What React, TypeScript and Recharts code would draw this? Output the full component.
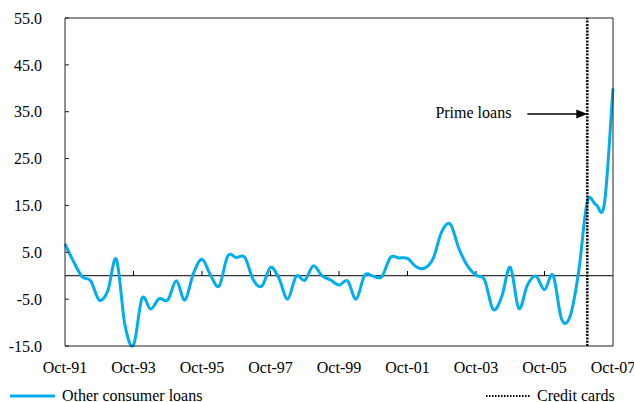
import { LineChart, Line, XAxis, YAxis, ReferenceLine } from "recharts";

const quarters = [
  "Oct-91", "Jan-92", "Apr-92", "Jul-92", "Oct-92", "Jan-93", "Apr-93", "Jul-93",
  "Oct-93", "Jan-94", "Apr-94", "Jul-94", "Oct-94", "Jan-95", "Apr-95", "Jul-95",
  "Oct-95", "Jan-96", "Apr-96", "Jul-96", "Oct-96", "Jan-97", "Apr-97", "Jul-97",
  "Oct-97", "Jan-98", "Apr-98", "Jul-98", "Oct-98", "Jan-99", "Apr-99", "Jul-99",
  "Oct-99", "Jan-00", "Apr-00", "Jul-00", "Oct-00", "Jan-01", "Apr-01", "Jul-01",
  "Oct-01", "Jan-02", "Apr-02", "Jul-02", "Oct-02", "Jan-03", "Apr-03", "Jul-03",
  "Oct-03", "Jan-04", "Apr-04", "Jul-04", "Oct-04", "Jan-05", "Apr-05", "Jul-05",
  "Oct-05", "Jan-06", "Apr-06", "Jul-06", "Oct-06", "Jan-07", "Apr-07", "Jul-07",
  "Oct-07",
];

const otherConsumerLoans = [
  6.8, 3.0, -0.2, -1.1, -5.2, -3.2, 3.5, -10.5,
  -14.8, -4.8, -7.1, -4.9, -5.2, -1.1, -5.2, 0.5,
  3.5, 0.1, -2.2, 4.2, 3.9, 3.9, -0.9, -2.2,
  1.8, -0.6, -5.0, -0.1, -1.0, 2.1, 0.0, -0.9,
  -2.0, -1.1, -5.0, 0.1, -0.1, -0.2, 3.9, 3.8,
  3.7, 1.9, 1.6, 3.7, 9.4, 11.0, 5.8, 2.1,
  0.1, -0.9, -7.2, -4.5, 1.8, -7.0, -2.0, -0.1,
  -3.0, 0.1, -9.3, -8.6, 1.0, 15.8, 15.2, 15.4,
  40.0,
];

const xTicks = ["Oct-91", "Oct-93", "Oct-95", "Oct-97", "Oct-99", "Oct-01", "Oct-03", "Oct-05", "Oct-07"];
const yTicks = [-15, -5, 5, 15, 25, 35, 45, 55];
const creditCardsMark = "Jan-07";
const primeArrowFrom = "Apr-05";
const primeArrowLevel = 34.5;

const data = quarters.map((q, i) => ({ q, other: otherConsumerLoans[i] }));

const FONT = '"Liberation Serif", "Times New Roman", serif';
const BLUE = "#00AEEF";
const AXIS = "#222";

// smooth curve through every point, like a spreadsheet's smoothed line
const smoothCurve = (context: any) => {
  let pts: [number, number][] = [];
  return {
    areaStart() {},
    areaEnd() {},
    lineStart() {
      pts = [];
    },
    point(x: number, y: number) {
      pts.push([+x, +y]);
    },
    lineEnd() {
      if (!pts.length) return;
      context.moveTo(pts[0][0], pts[0][1]);
      for (let i = 0; i < pts.length - 1; i++) {
        const p0 = pts[Math.max(i - 1, 0)];
        const p1 = pts[i];
        const p2 = pts[i + 1];
        const p3 = pts[Math.min(i + 2, pts.length - 1)];
        context.bezierCurveTo(
          p1[0] + (p2[0] - p0[0]) / 6,
          p1[1] + (p2[1] - p0[1]) / 6,
          p2[0] - (p3[0] - p1[0]) / 6,
          p2[1] - (p3[1] - p1[1]) / 6,
          p2[0],
          p2[1]
        );
      }
    },
  };
};

const PrimeArrow = (props: any) => {
  const { x1, y1, x2, y2 } = props;
  return (
    <g>
      <line x1={x1} y1={y1} x2={x2 - 10} y2={y2} stroke="#000" strokeWidth={1.5} />
      <polygon points={`${x2},${y2} ${x2 - 11},${y2 - 4.5} ${x2 - 11},${y2 + 4.5}`} fill="#000" />
      <text x={x1 - 16} y={y1 + 3.5} textAnchor="end" fontSize={16} fontFamily={FONT} fill="#000">
        Prime loans
      </text>
    </g>
  );
};

export default function App() {
  return (
    <div style={{ position: "absolute", left: 0, top: 0, width: 634, height: 402, fontFamily: FONT }}>
      <LineChart width={634} height={402} data={data} margin={{ top: 18, right: 0, left: 0, bottom: 0 }}>
        <XAxis
          dataKey="q"
          ticks={xTicks}
          interval={0}
          tickLine={false}
          tickSize={0}
          tickMargin={16}
          height={56}
          axisLine={{ stroke: AXIS }}
          tick={{ fill: "#000", fontSize: 16, fontFamily: FONT }}
        />
        <YAxis
          domain={[-15, 55]}
          ticks={yTicks}
          width={65}
          tickSize={-4}
          tickMargin={27}
          tickFormatter={(v: number) => v.toFixed(1)}
          axisLine={{ stroke: AXIS }}
          tickLine={{ stroke: AXIS }}
          tick={{ fill: "#000", fontSize: 16, fontFamily: FONT }}
        />
        <YAxis
          yAxisId="r"
          orientation="right"
          domain={[-15, 55]}
          ticks={yTicks}
          width={21}
          tickSize={-4}
          tickFormatter={() => ""}
          axisLine={{ stroke: AXIS }}
          tickLine={{ stroke: AXIS }}
        />
        <ReferenceLine y={55} stroke={AXIS} />
        <ReferenceLine y={0} stroke="#000" />
        {xTicks.slice(1, -1).map((t) => (
          <ReferenceLine key={t} segment={[{ x: t, y: 0 }, { x: t, y: 1 }]} stroke="#000" />
        ))}
        <Line
          type={smoothCurve as any}
          dataKey="other"
          stroke={BLUE}
          strokeWidth={3}
          dot={false}
          isAnimationActive={false}
        />
        <ReferenceLine x={creditCardsMark} stroke="#000" strokeWidth={2.5} strokeDasharray="2 1.3" />
        <ReferenceLine
          segment={[{ x: primeArrowFrom, y: primeArrowLevel }, { x: creditCardsMark, y: primeArrowLevel }]}
          shape={PrimeArrow}
        />
      </LineChart>
      <svg width={634} height={18} style={{ position: "absolute", left: 0, top: 384 }}>
        <line x1={10} y1={12} x2={55} y2={12} stroke={BLUE} strokeWidth={3} />
        <text x={62} y={16.5} fontSize={16} fontFamily={FONT} fill="#000">Other consumer loans</text>
        <line x1={486} y1={12} x2={531} y2={12} stroke="#000" strokeWidth={2} strokeDasharray="1.5 1.5" />
        <text x={537} y={16.5} fontSize={16} fontFamily={FONT} fill="#000">Credit cards</text>
      </svg>
    </div>
  );
}
